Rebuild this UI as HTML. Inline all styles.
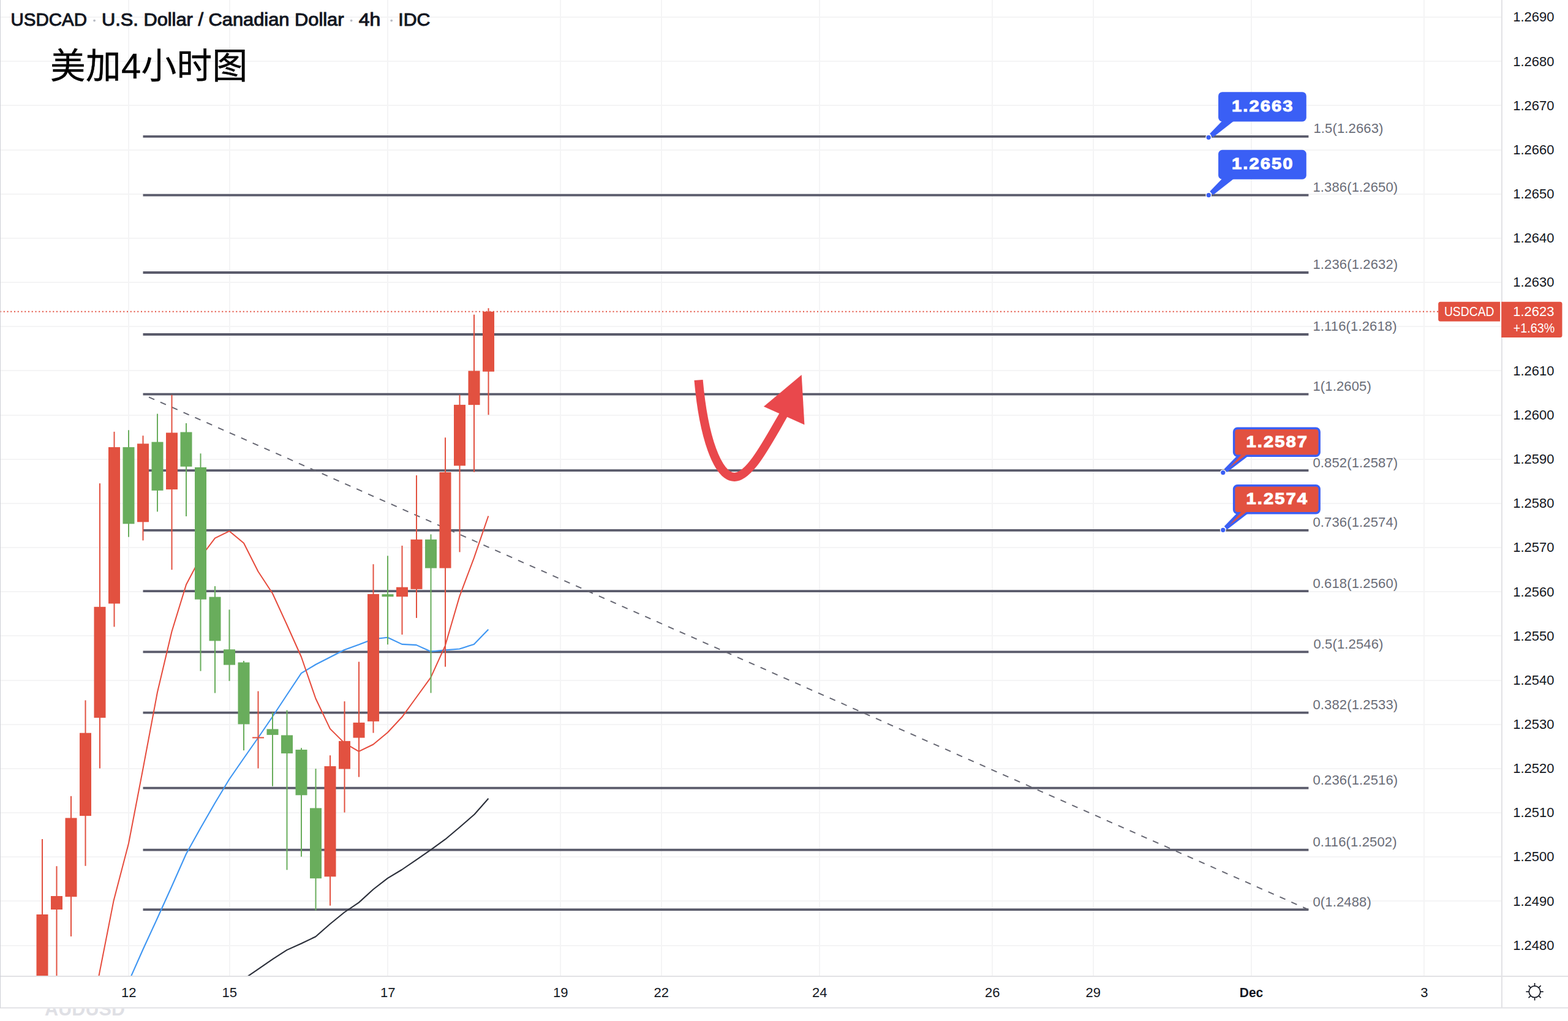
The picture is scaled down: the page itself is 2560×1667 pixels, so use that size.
<!DOCTYPE html>
<html lang="en"><head><meta charset="utf-8"><title>USDCAD 4h</title>
<style>html,body{margin:0;padding:0;background:#fff}body{width:2560px;height:1667px;overflow:hidden;position:relative;font-family:"Liberation Sans",sans-serif}svg{position:absolute;left:0;top:0;display:block}text{font-family:"Liberation Sans",sans-serif}</style></head><body>
<svg width="2560" height="1667" viewBox="0 0 2560 1667">
<defs><clipPath id="pane"><rect x="0" y="0" width="2451" height="1593"/></clipPath><clipPath id="wm"><rect x="0" y="1646.5" width="400" height="30"/></clipPath></defs>
<rect width="2560" height="1667" fill="#fff"/>
<g stroke="#f4f4f5" stroke-width="2" shape-rendering="crispEdges">
<line x1="210.0" y1="0" x2="210.0" y2="1593"/>
<line x1="374.5" y1="0" x2="374.5" y2="1593"/>
<line x1="633.0" y1="0" x2="633.0" y2="1593"/>
<line x1="915.0" y1="0" x2="915.0" y2="1593"/>
<line x1="1079.5" y1="0" x2="1079.5" y2="1593"/>
<line x1="1338.0" y1="0" x2="1338.0" y2="1593"/>
<line x1="1620.0" y1="0" x2="1620.0" y2="1593"/>
<line x1="1784.5" y1="0" x2="1784.5" y2="1593"/>
<line x1="2043.0" y1="0" x2="2043.0" y2="1593"/>
<line x1="2325.0" y1="0" x2="2325.0" y2="1593"/>
<line x1="0" y1="28.1" x2="2451" y2="28.1"/>
<line x1="0" y1="100.3" x2="2451" y2="100.3"/>
<line x1="0" y1="172.4" x2="2451" y2="172.4"/>
<line x1="0" y1="244.6" x2="2451" y2="244.6"/>
<line x1="0" y1="316.7" x2="2451" y2="316.7"/>
<line x1="0" y1="388.9" x2="2451" y2="388.9"/>
<line x1="0" y1="461.1" x2="2451" y2="461.1"/>
<line x1="0" y1="533.2" x2="2451" y2="533.2"/>
<line x1="0" y1="605.4" x2="2451" y2="605.4"/>
<line x1="0" y1="677.5" x2="2451" y2="677.5"/>
<line x1="0" y1="749.7" x2="2451" y2="749.7"/>
<line x1="0" y1="821.9" x2="2451" y2="821.9"/>
<line x1="0" y1="894.0" x2="2451" y2="894.0"/>
<line x1="0" y1="966.2" x2="2451" y2="966.2"/>
<line x1="0" y1="1038.3" x2="2451" y2="1038.3"/>
<line x1="0" y1="1110.5" x2="2451" y2="1110.5"/>
<line x1="0" y1="1182.7" x2="2451" y2="1182.7"/>
<line x1="0" y1="1254.8" x2="2451" y2="1254.8"/>
<line x1="0" y1="1327.0" x2="2451" y2="1327.0"/>
<line x1="0" y1="1399.1" x2="2451" y2="1399.1"/>
<line x1="0" y1="1471.3" x2="2451" y2="1471.3"/>
<line x1="0" y1="1543.5" x2="2451" y2="1543.5"/>
</g>
<g clip-path="url(#pane)">
<g stroke="#5a5b6b" stroke-width="3.8">
<line x1="233.5" y1="222.8" x2="2136.4" y2="222.8"/>
<line x1="233.5" y1="318.7" x2="2136.4" y2="318.7"/>
<line x1="233.5" y1="445.0" x2="2136.4" y2="445.0"/>
<line x1="233.5" y1="546.0" x2="2136.4" y2="546.0"/>
<line x1="233.5" y1="643.6" x2="2136.4" y2="643.6"/>
<line x1="233.5" y1="768.2" x2="2136.4" y2="768.2"/>
<line x1="233.5" y1="865.8" x2="2136.4" y2="865.8"/>
<line x1="233.5" y1="965.1" x2="2136.4" y2="965.1"/>
<line x1="233.5" y1="1064.4" x2="2136.4" y2="1064.4"/>
<line x1="233.5" y1="1163.7" x2="2136.4" y2="1163.7"/>
<line x1="233.5" y1="1286.6" x2="2136.4" y2="1286.6"/>
<line x1="233.5" y1="1387.6" x2="2136.4" y2="1387.6"/>
<line x1="233.5" y1="1485.2" x2="2136.4" y2="1485.2"/>
</g>
<line x1="233.5" y1="644.1" x2="2136.4" y2="1485.2" stroke="#62636f" stroke-width="1.9" stroke-dasharray="9.9 10.7" stroke-dashoffset="-10.4"/>
<polyline fill="none" stroke="#2a2e39" stroke-width="2.1" stroke-linejoin="round" points="398.0,1598.5 421.5,1582.3 445.4,1565.9 468.3,1551.1 491.9,1540.5 515.4,1529.2 538.7,1508.7 562.3,1489.5 585.8,1473.6 609.5,1452.0 632.9,1433.8 656.0,1420.0 679.7,1403.9 703.5,1387.4 727.2,1370.2 750.9,1350.2 774.7,1329.5 797.4,1303.7"/>
<polyline fill="none" stroke="#3f96f2" stroke-width="2.1" stroke-linejoin="round" points="214.2,1593.5 233.5,1550.0 257.0,1499.0 280.5,1447.0 304.0,1394.0 327.4,1352.0 351.0,1311.0 374.5,1272.0 398.0,1238.0 421.5,1204.5 445.0,1170.0 468.4,1134.5 491.9,1099.2 515.4,1085.0 538.9,1073.0 562.3,1061.0 585.8,1052.6 609.3,1043.5 632.8,1040.8 656.3,1051.9 679.8,1053.1 703.3,1063.8 726.8,1061.4 750.3,1059.5 773.8,1051.9 797.3,1027.7"/>
<polyline fill="none" stroke="#e64b3c" stroke-width="2.0" stroke-linejoin="round" points="161.4,1593.5 185.6,1470.4 210.0,1377.0 233.5,1255.0 257.0,1130.0 280.5,1031.0 304.0,954.5 327.4,910.0 351.0,878.7 374.5,867.2 398.0,886.8 421.4,933.0 445.0,969.0 468.4,1020.0 491.9,1072.5 515.4,1140.5 538.9,1189.9 562.3,1213.1 585.8,1226.8 609.3,1215.5 632.8,1196.0 656.3,1170.8 679.8,1138.5 703.3,1106.2 726.8,1054.3 750.3,973.6 773.8,911.1 797.3,842.5"/>
<rect x="68.0" y="1370.0" width="2" height="230.0" fill="#e25140"/>
<rect x="59.5" y="1493.0" width="19.0" height="107.0" fill="#e25140"/>
<rect x="91.5" y="1414.2" width="2" height="185.8" fill="#e25140"/>
<rect x="83.0" y="1463.0" width="19.0" height="22.0" fill="#e25140"/>
<rect x="115.0" y="1299.8" width="2" height="229.1" fill="#e25140"/>
<rect x="106.5" y="1335.5" width="19.0" height="128.7" fill="#e25140"/>
<rect x="138.5" y="1143.4" width="2" height="270.4" fill="#e25140"/>
<rect x="130.0" y="1196.7" width="19.0" height="135.4" fill="#e25140"/>
<rect x="162.0" y="789.2" width="2" height="465.3" fill="#e25140"/>
<rect x="153.5" y="990.8" width="19.0" height="181.1" fill="#e25140"/>
<rect x="185.5" y="704.9" width="2" height="318.5" fill="#e25140"/>
<rect x="177.0" y="730.1" width="19.0" height="255.4" fill="#e25140"/>
<rect x="209.0" y="702.3" width="2" height="174.4" fill="#69ad5c"/>
<rect x="200.5" y="730.1" width="19.0" height="125.2" fill="#69ad5c"/>
<rect x="232.5" y="711.3" width="2" height="171.1" fill="#e25140"/>
<rect x="224.0" y="724.4" width="19.0" height="127.9" fill="#e25140"/>
<rect x="256.0" y="675.6" width="2" height="159.8" fill="#69ad5c"/>
<rect x="247.5" y="721.6" width="19.0" height="79.3" fill="#69ad5c"/>
<rect x="279.5" y="644.8" width="2" height="285.5" fill="#e25140"/>
<rect x="271.0" y="706.5" width="19.0" height="92.6" fill="#e25140"/>
<rect x="303.0" y="691.0" width="2" height="152.0" fill="#69ad5c"/>
<rect x="294.5" y="705.5" width="19.0" height="56.3" fill="#69ad5c"/>
<rect x="326.5" y="740.4" width="2" height="355.2" fill="#69ad5c"/>
<rect x="318.0" y="763.0" width="19.0" height="215.7" fill="#69ad5c"/>
<rect x="350.0" y="957.1" width="2" height="174.4" fill="#69ad5c"/>
<rect x="341.5" y="974.6" width="19.0" height="71.8" fill="#69ad5c"/>
<rect x="373.5" y="995.4" width="2" height="116.4" fill="#69ad5c"/>
<rect x="365.0" y="1060.3" width="19.0" height="25.3" fill="#69ad5c"/>
<rect x="397.0" y="1079.0" width="2" height="146.2" fill="#69ad5c"/>
<rect x="388.5" y="1081.5" width="19.0" height="100.9" fill="#69ad5c"/>
<rect x="420.5" y="1128.5" width="2" height="126.0" fill="#e25140"/>
<rect x="412.0" y="1203.4" width="19.0" height="2.0" fill="#e25140"/>
<rect x="444.0" y="1163.2" width="2" height="120.5" fill="#69ad5c"/>
<rect x="435.5" y="1190.4" width="19.0" height="9.5" fill="#69ad5c"/>
<rect x="467.5" y="1159.5" width="2" height="260.8" fill="#69ad5c"/>
<rect x="459.0" y="1200.4" width="19.0" height="29.7" fill="#69ad5c"/>
<rect x="491.0" y="1221.2" width="2" height="177.5" fill="#69ad5c"/>
<rect x="482.5" y="1224.0" width="19.0" height="74.3" fill="#69ad5c"/>
<rect x="514.5" y="1255.1" width="2" height="231.3" fill="#69ad5c"/>
<rect x="506.0" y="1319.4" width="19.0" height="114.8" fill="#69ad5c"/>
<rect x="538.0" y="1233.3" width="2" height="245.3" fill="#e25140"/>
<rect x="529.5" y="1251.0" width="19.0" height="180.3" fill="#e25140"/>
<rect x="561.5" y="1145.1" width="2" height="181.4" fill="#e25140"/>
<rect x="553.0" y="1209.9" width="19.0" height="45.6" fill="#e25140"/>
<rect x="585.0" y="1080.5" width="2" height="188.1" fill="#e25140"/>
<rect x="576.5" y="1179.8" width="19.0" height="24.8" fill="#e25140"/>
<rect x="608.5" y="921.2" width="2" height="275.4" fill="#e25140"/>
<rect x="600.0" y="970.0" width="19.0" height="207.8" fill="#e25140"/>
<rect x="632.0" y="907.5" width="2" height="144.8" fill="#69ad5c"/>
<rect x="623.5" y="970.2" width="19.0" height="4.0" fill="#69ad5c"/>
<rect x="655.5" y="890.9" width="2" height="145.3" fill="#e25140"/>
<rect x="647.0" y="958.7" width="19.0" height="15.5" fill="#e25140"/>
<rect x="679.0" y="776.1" width="2" height="232.8" fill="#e25140"/>
<rect x="670.5" y="880.8" width="19.0" height="81.1" fill="#e25140"/>
<rect x="702.5" y="872.4" width="2" height="259.0" fill="#69ad5c"/>
<rect x="694.0" y="880.8" width="19.0" height="46.8" fill="#69ad5c"/>
<rect x="726.0" y="714.4" width="2" height="374.2" fill="#e25140"/>
<rect x="717.5" y="771.0" width="19.0" height="156.6" fill="#e25140"/>
<rect x="749.5" y="644.4" width="2" height="257.0" fill="#e25140"/>
<rect x="741.0" y="660.9" width="19.0" height="99.5" fill="#e25140"/>
<rect x="773.0" y="513.7" width="2" height="257.1" fill="#e25140"/>
<rect x="764.5" y="605.5" width="19.0" height="55.6" fill="#e25140"/>
<rect x="796.5" y="503.2" width="2" height="174.1" fill="#e25140"/>
<rect x="788.0" y="508.8" width="19.0" height="97.9" fill="#e25140"/>
<line x1="0" y1="508.8" x2="2348" y2="508.8" stroke="#e25140" stroke-width="2" stroke-dasharray="2 3.75"/>
<path d="M1140.5,620.5 C1148.5,712 1171,778.8 1199.2,778.8 C1224.4,778.8 1254,720.5 1281,674" fill="none" stroke="#e9484c" stroke-width="14.2"/>
<polygon points="1308.7,612 1246.9,663.8 1313.4,693.4" fill="#e9484c"/>
</g>
<g fill="#6a6d78" font-size="22px" letter-spacing="0.15">
<text x="2144.4" y="217.2">1.5(1.2663)</text>
<text x="2143.4" y="313.1">1.386(1.2650)</text>
<text x="2143.4" y="439.4">1.236(1.2632)</text>
<text x="2143.4" y="540.4">1.116(1.2618)</text>
<text x="2143.4" y="638.0">1(1.2605)</text>
<text x="2143.4" y="762.6">0.852(1.2587)</text>
<text x="2143.4" y="860.2">0.736(1.2574)</text>
<text x="2143.4" y="959.5">0.618(1.2560)</text>
<text x="2144.4" y="1058.8">0.5(1.2546)</text>
<text x="2143.4" y="1158.1">0.382(1.2533)</text>
<text x="2143.4" y="1281.0">0.236(1.2516)</text>
<text x="2143.4" y="1382.0">0.116(1.2502)</text>
<text x="2143.4" y="1479.6">0(1.2488)</text>
</g>
<polygon points="1995.3,197.5 2014.5,197.5 1980.3,224.3 1975.2,218.3" fill="#3a5ff5"/>
<rect x="1989.1" y="150.2" width="143.7" height="48.3" rx="6.5" fill="#3a5ff5"/>
<circle cx="1973.2" cy="224.3" r="4.3" fill="#3a5ff5" stroke="#fff" stroke-width="1.3"/>
<text x="2010.9" y="181.8" font-size="25.5px" font-weight="bold" letter-spacing="1.8" fill="#fff" stroke="#fff" stroke-width="1.0" textLength="101.8" lengthAdjust="spacingAndGlyphs">1.2663</text>
<polygon points="1995.3,291.7 2014.5,291.7 1980.4,318.6 1975.3,312.6" fill="#3a5ff5"/>
<rect x="1989.1" y="244.8" width="143.7" height="47.9" rx="6.5" fill="#3a5ff5"/>
<circle cx="1973.3" cy="318.6" r="4.3" fill="#3a5ff5" stroke="#fff" stroke-width="1.3"/>
<text x="2010.9" y="276.2" font-size="25.5px" font-weight="bold" letter-spacing="1.8" fill="#fff" stroke="#fff" stroke-width="1.0" textLength="101.8" lengthAdjust="spacingAndGlyphs">1.2650</text>
<polygon points="2018.9,744.9 2037.4,744.9 2003.2,771.1 1998.8,765.6" fill="#3a5ff5"/>
<rect x="2012.9" y="697.5" width="143.0" height="48.4" rx="7.5" fill="#3a5ff5"/>
<rect x="2016.3" y="700.9" width="136.2" height="41.6" rx="4.5" fill="#e25140"/>
<polygon points="2026.7,742.3 2035.1,742.3 2006.5,764.2" fill="#e25140"/>
<circle cx="1996.8" cy="771.6" r="4.3" fill="#3a5ff5" stroke="#fff" stroke-width="1.3"/>
<text x="2034.4" y="729.9" font-size="25.5px" font-weight="bold" letter-spacing="1.8" fill="#fff" stroke="#fff" stroke-width="1.0" textLength="101.8" lengthAdjust="spacingAndGlyphs">1.2587</text>
<polygon points="2018.9,838.4 2037.4,838.4 2003.2,864.8 1998.8,859.3" fill="#3a5ff5"/>
<rect x="2012.9" y="791.0" width="143.0" height="48.4" rx="7.5" fill="#3a5ff5"/>
<rect x="2016.3" y="794.4" width="136.2" height="41.6" rx="4.5" fill="#e25140"/>
<polygon points="2026.7,835.8 2035.1,835.8 2006.5,857.9" fill="#e25140"/>
<circle cx="1996.8" cy="865.3" r="4.3" fill="#3a5ff5" stroke="#fff" stroke-width="1.3"/>
<text x="2034.4" y="823.4" font-size="25.5px" font-weight="bold" letter-spacing="1.8" fill="#fff" stroke="#fff" stroke-width="1.0" textLength="101.8" lengthAdjust="spacingAndGlyphs">1.2574</text>
<rect x="2452" y="0" width="108" height="1667" fill="#fff"/>
<rect x="0" y="1594" width="2560" height="73" fill="#fff"/>
<g stroke="#e2e2e5" stroke-width="2">
<line x1="2452" y1="0" x2="2452" y2="1645.5"/>
<line x1="0" y1="1594" x2="2560" y2="1594"/>
<line x1="0" y1="1645.5" x2="2560" y2="1645.5"/>
</g>
<rect x="0" y="0" width="1" height="1645.5" fill="#cdcfd6"/>
<g fill="#131722" font-size="22px">
<text x="2470.2" y="35.4">1.2690</text>
<text x="2470.2" y="107.6">1.2680</text>
<text x="2470.2" y="179.7">1.2670</text>
<text x="2470.2" y="251.9">1.2660</text>
<text x="2470.2" y="324.0">1.2650</text>
<text x="2470.2" y="396.2">1.2640</text>
<text x="2470.2" y="468.4">1.2630</text>
<text x="2470.2" y="612.7">1.2610</text>
<text x="2470.2" y="684.8">1.2600</text>
<text x="2470.2" y="757.0">1.2590</text>
<text x="2470.2" y="829.2">1.2580</text>
<text x="2470.2" y="901.3">1.2570</text>
<text x="2470.2" y="973.5">1.2560</text>
<text x="2470.2" y="1045.6">1.2550</text>
<text x="2470.2" y="1117.8">1.2540</text>
<text x="2470.2" y="1190.0">1.2530</text>
<text x="2470.2" y="1262.1">1.2520</text>
<text x="2470.2" y="1334.3">1.2510</text>
<text x="2470.2" y="1406.4">1.2500</text>
<text x="2470.2" y="1478.6">1.2490</text>
<text x="2470.2" y="1550.8">1.2480</text>
</g>
<path d="M2351.7,492.8 H2449.4 V524.8 H2351.7 a3.5,3.5 0 0 1 -3.5,-3.5 V496.3 a3.5,3.5 0 0 1 3.5,-3.5z" fill="#e25140"/>
<rect x="2449.4" y="492.8" width="2" height="32" fill="#fff"/>
<path d="M2451.2,492.8 H2547 a3.5,3.5 0 0 1 3.5,3.5 V547.4 a3.5,3.5 0 0 1 -3.5,3.5 H2451.2z" fill="#e25140"/>
<g fill="#fff" font-size="22px"><text x="2357.9" y="516.2" textLength="81.6" lengthAdjust="spacingAndGlyphs">USDCAD</text><text x="2470.2" y="516.2">1.2623</text><text x="2470.8" y="542.8" textLength="67.5" lengthAdjust="spacingAndGlyphs">+1.63%</text></g>
<g fill="#131722" font-size="22px" text-anchor="middle">
<text x="210.3" y="1628.2">12</text>
<text x="374.8" y="1628.2">15</text>
<text x="633.3" y="1628.2">17</text>
<text x="915.3" y="1628.2">19</text>
<text x="1079.8" y="1628.2">22</text>
<text x="1338.3" y="1628.2">24</text>
<text x="1620.3" y="1628.2">26</text>
<text x="1784.8" y="1628.2">29</text>
<text x="2325.3" y="1628.2">3</text>
<text x="2043.0" y="1628.2" font-weight="bold" textLength="38.4" lengthAdjust="spacingAndGlyphs">Dec</text>
</g>
<g stroke="#131722" stroke-width="1.7" fill="none"><circle cx="2505.6" cy="1619.2" r="9.3"/>
<line x1="2514.90" y1="1619.20" x2="2519.80" y2="1619.20"/>
<line x1="2512.18" y1="1625.78" x2="2515.64" y2="1629.24"/>
<line x1="2505.60" y1="1628.50" x2="2505.60" y2="1633.40"/>
<line x1="2499.02" y1="1625.78" x2="2495.56" y2="1629.24"/>
<line x1="2496.30" y1="1619.20" x2="2491.40" y2="1619.20"/>
<line x1="2499.02" y1="1612.62" x2="2495.56" y2="1609.16"/>
<line x1="2505.60" y1="1609.90" x2="2505.60" y2="1605.00"/>
<line x1="2512.18" y1="1612.62" x2="2515.64" y2="1609.16"/>
</g>
<g clip-path="url(#wm)"><text x="73" y="1657.8" font-size="30.5px" font-weight="bold" fill="#dfe0e5" textLength="131" lengthAdjust="spacing">AUDUSD</text></g>
<g fill="#131722" stroke="#131722" stroke-width="1.0" font-size="29px">
<text x="17.6" y="41.6" textLength="124.4" lengthAdjust="spacingAndGlyphs">USDCAD</text>
<text x="165.9" y="41.6" textLength="395.6" lengthAdjust="spacingAndGlyphs">U.S. Dollar / Canadian Dollar</text>
<text x="585.8" y="41.6" textLength="35.5" lengthAdjust="spacingAndGlyphs">4h</text>
<text x="650.3" y="41.6" textLength="52" lengthAdjust="spacingAndGlyphs">IDC</text>
</g>
<circle cx="154.1" cy="33.6" r="1.9" fill="#b8bbc4"/>
<circle cx="573.6" cy="33.6" r="1.9" fill="#b8bbc4"/>
<circle cx="639.2" cy="33.6" r="1.9" fill="#b8bbc4"/>
<g fill="#000" stroke="#000" stroke-width="0.4" aria-label="美加4小时图"><title>美加4小时图</title>
<text x="82" y="128" font-size="57.6px" textLength="322" lengthAdjust="spacing" style="font-family:'Liberation Sans','Noto Sans CJK SC',sans-serif">美加4小时图</text>
</g>
</svg></body></html>
